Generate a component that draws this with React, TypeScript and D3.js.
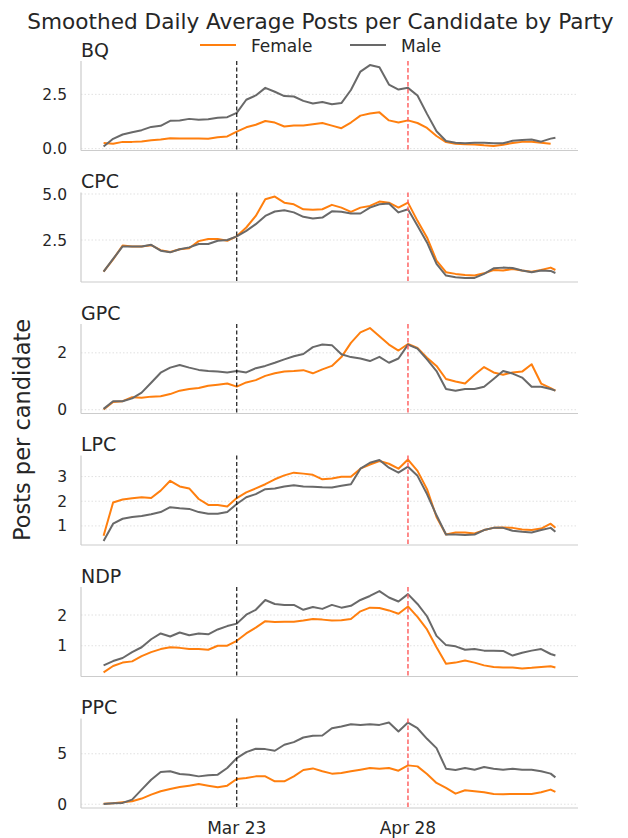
import React from "react";
import * as d3 from "d3";

// ---------- data ----------
const parties = ["BQ", "CPC", "GPC", "LPC", "NDP", "PPC"];
const seriesNames = ["Female", "Male"];
const seriesColors = ["#ff7f0e", "#696969"];

// day offsets from 2025-02-23
const dayOffsets = [0, 2, 4, 6, 8, 10, 12, 14, 16, 18, 20, 22, 24, 26, 28, 30, 32, 34, 36, 38, 40, 42, 44, 46, 48, 50, 52, 54, 56, 58, 60, 62, 64, 66, 68, 70, 72, 74, 76, 78, 80, 82, 84, 86, 88, 90, 92, 94, 95];
const startDate = new Date(2025, 1, 23);

const bqFemale = [0.26, 0.22, 0.31, 0.31, 0.33, 0.38, 0.42, 0.48, 0.46, 0.46, 0.46, 0.45, 0.52, 0.56, 0.78, 0.98, 1.1, 1.27, 1.2, 1.02, 1.06, 1.06, 1.12, 1.18, 1.06, 0.94, 1.2, 1.52, 1.62, 1.67, 1.3, 1.2, 1.3, 1.18, 0.95, 0.58, 0.3, 0.22, 0.2, 0.19, 0.15, 0.12, 0.18, 0.26, 0.31, 0.32, 0.27, 0.22, null];
const bqMale = [0.1, 0.45, 0.65, 0.75, 0.85, 1.0, 1.05, 1.28, 1.3, 1.37, 1.33, 1.35, 1.42, 1.45, 1.65, 2.25, 2.45, 2.8, 2.62, 2.42, 2.4, 2.2, 2.08, 2.15, 2.04, 2.1, 2.7, 3.55, 3.85, 3.75, 2.95, 2.72, 2.8, 2.45, 1.6, 0.8, 0.35, 0.27, 0.25, 0.27, 0.27, 0.25, 0.25, 0.36, 0.4, 0.42, 0.32, 0.46, 0.5];

const cpcFemale = [0.78, 1.45, 2.2, 2.15, 2.15, 2.22, 1.95, 1.85, 2.0, 2.05, 2.44, 2.55, 2.55, 2.46, 2.7, 3.18, 3.81, 4.71, 4.86, 4.53, 4.44, 4.17, 4.14, 4.17, 4.41, 4.26, 4.03, 4.26, 4.35, 4.59, 4.53, 4.26, 4.53, 3.54, 2.64, 1.38, 0.75, 0.66, 0.6, 0.57, 0.69, 0.87, 0.84, 0.93, 0.84, 0.78, 0.87, 1.0, 0.87];
const cpcMale = [0.78, 1.47, 2.15, 2.15, 2.15, 2.24, 1.92, 1.83, 2.0, 2.1, 2.28, 2.28, 2.46, 2.5, 2.7, 3.0, 3.36, 3.81, 4.05, 4.12, 4.0, 3.76, 3.67, 3.72, 4.06, 4.03, 3.94, 3.94, 4.26, 4.44, 4.48, 4.0, 4.17, 3.27, 2.37, 1.2, 0.57, 0.48, 0.44, 0.44, 0.66, 0.96, 1.0, 0.98, 0.84, 0.75, 0.84, 0.82, 0.71];

const gpcFemale = [0.01, 0.27, 0.3, 0.44, 0.42, 0.46, 0.47, 0.55, 0.67, 0.73, 0.76, 0.84, 0.88, 0.92, 0.81, 0.96, 1.04, 1.19, 1.28, 1.34, 1.36, 1.39, 1.28, 1.42, 1.54, 1.85, 2.35, 2.72, 2.87, 2.58, 2.29, 2.08, 2.31, 2.17, 1.83, 1.54, 1.08, 0.99, 0.92, 1.23, 1.5, 1.31, 1.23, 1.31, 1.34, 1.6, 0.92, 0.76, 0.67];
const gpcMale = [0.03, 0.3, 0.3, 0.4, 0.6, 0.95, 1.3, 1.48, 1.57, 1.48, 1.4, 1.36, 1.34, 1.31, 1.36, 1.31, 1.46, 1.54, 1.65, 1.77, 1.88, 1.96, 2.2, 2.29, 2.27, 1.95, 1.85, 1.8, 1.71, 1.86, 1.65, 1.8, 2.29, 2.15, 1.77, 1.36, 0.73, 0.67, 0.73, 0.73, 0.81, 1.08, 1.36, 1.27, 1.13, 0.81, 0.81, 0.73, 0.67];

const lpcFemale = [0.6, 1.95, 2.07, 2.12, 2.16, 2.13, 2.43, 2.83, 2.6, 2.52, 2.09, 1.85, 1.85, 1.79, 2.13, 2.36, 2.52, 2.69, 2.89, 3.05, 3.16, 3.12, 3.07, 2.89, 2.92, 2.99, 2.99, 3.32, 3.49, 3.63, 3.52, 3.32, 3.69, 3.23, 2.49, 1.36, 0.65, 0.73, 0.73, 0.69, 0.83, 0.92, 0.93, 0.92, 0.85, 0.83, 0.89, 1.09, 0.92];
const lpcMale = [0.39, 1.09, 1.29, 1.36, 1.4, 1.47, 1.56, 1.76, 1.72, 1.69, 1.56, 1.49, 1.49, 1.56, 1.89, 2.16, 2.29, 2.49, 2.52, 2.6, 2.65, 2.6, 2.59, 2.57, 2.56, 2.63, 2.69, 3.32, 3.56, 3.67, 3.36, 3.16, 3.4, 3.03, 2.29, 1.43, 0.65, 0.65, 0.63, 0.65, 0.83, 0.92, 0.92, 0.8, 0.76, 0.73, 0.83, 0.92, 0.76];

const ndpFemale = [0.13, 0.34, 0.45, 0.49, 0.66, 0.79, 0.89, 0.95, 0.93, 0.89, 0.89, 0.87, 1.0, 1.0, 1.16, 1.4, 1.59, 1.8, 1.77, 1.78, 1.78, 1.82, 1.87, 1.85, 1.82, 1.83, 1.87, 2.12, 2.24, 2.23, 2.15, 2.04, 2.28, 1.94, 1.53, 0.95, 0.41, 0.45, 0.52, 0.45, 0.36, 0.31, 0.29, 0.29, 0.26, 0.28, 0.31, 0.33, 0.29];
const ndpMale = [0.36, 0.5, 0.6, 0.79, 0.95, 1.21, 1.4, 1.3, 1.43, 1.34, 1.4, 1.37, 1.53, 1.64, 1.72, 2.01, 2.17, 2.49, 2.36, 2.33, 2.33, 2.17, 2.26, 2.2, 2.33, 2.24, 2.3, 2.49, 2.62, 2.78, 2.57, 2.44, 2.68, 2.36, 1.96, 1.32, 1.02, 0.98, 0.87, 0.89, 0.84, 0.84, 0.83, 0.68, 0.77, 0.84, 0.89, 0.73, 0.68];

const ppcFemale = [0.05, 0.1, 0.2, 0.3, 0.56, 0.95, 1.28, 1.51, 1.7, 1.84, 2.0, 1.84, 1.68, 1.84, 2.5, 2.6, 2.76, 2.76, 2.27, 2.27, 2.76, 3.39, 3.55, 3.26, 3.03, 3.09, 3.26, 3.42, 3.59, 3.52, 3.59, 3.32, 3.85, 3.75, 3.0, 2.11, 1.61, 1.05, 1.38, 1.28, 1.18, 1.02, 0.99, 1.02, 1.02, 1.02, 1.18, 1.45, 1.22];
const ppcMale = [0.03, 0.1, 0.13, 0.46, 1.45, 2.43, 3.19, 3.26, 2.99, 2.93, 2.76, 2.86, 2.93, 3.59, 4.57, 5.16, 5.49, 5.46, 5.3, 5.89, 6.15, 6.61, 6.78, 6.81, 7.53, 7.7, 7.93, 7.86, 7.93, 7.86, 8.09, 7.2, 8.09, 7.53, 6.48, 5.56, 3.52, 3.39, 3.59, 3.42, 3.68, 3.52, 3.42, 3.52, 3.42, 3.42, 3.26, 3.03, 2.66];

const femaleSeries = [bqFemale, cpcFemale, gpcFemale, lpcFemale, ndpFemale, ppcFemale];
const maleSeries = [bqMale, cpcMale, gpcMale, lpcMale, ndpMale, ppcMale];

const bqTicks = [0, 2.5];
const cpcTicks = [2.5, 5.0];
const gpcTicks = [0, 2];
const lpcTicks = [1, 2, 3];
const ndpTicks = [1, 2];
const ppcTicks = [0, 5];
const panelTicks = [bqTicks, cpcTicks, gpcTicks, lpcTicks, ndpTicks, ppcTicks];
const tickFormats = [".1f", ".1f", "d", "d", "d", "d"];

const markerDates = [new Date(2025, 2, 23), new Date(2025, 3, 28)];
const markerLabels = ["Mar 23", "Apr 28"];
const markerColors = ["#000000", "#ff5a5a"];

const title = "Smoothed Daily Average Posts per Candidate by Party";
const yLabel = "Posts per candidate";

// ---------- layout ----------
const W = 628;
const H = 838;
const left = 81;
const right = 578;
const panelTop0 = 61;
const panelStep = 131.5;
const panelH = 89.5;
const FONT = "DejaVu Sans, sans-serif";
const TEXT = "#262626";

const dates = dayOffsets.map((d) => d3.timeDay.offset(startDate, d));

export default function App() {
  const ext = d3.extent(dates) as [Date, Date];
  const span = +ext[1] - +ext[0];
  const x = d3
    .scaleTime()
    .domain([new Date(+ext[0] - span * 0.05), new Date(+ext[1] + span * 0.05)])
    .range([left, right]);

  return (
    <svg
      width={W}
      height={H}
      style={{ position: "absolute", left: 0, top: 0, background: "#fff" }}
      fontFamily={FONT}
    >
      <rect width={W} height={H} fill="#fff" />
      <text x={320.5} y={29} textAnchor="middle" fontSize={21.6} fill={TEXT}>
        {title}
      </text>
      {/* legend */}
      {seriesNames.map((name, i) => {
        const lx = i === 0 ? 200 : 350;
        return (
          <g key={name}>
            <line x1={lx} x2={lx + 36} y1={45} y2={45} stroke={seriesColors[i]} strokeWidth={2} />
            <text x={lx + 51} y={52} fontSize={17} fill={TEXT}>
              {name}
            </text>
          </g>
        );
      })}
      <text
        transform={`translate(30,430) rotate(-90)`}
        textAnchor="middle"
        fontSize={22.5}
        fill={TEXT}
      >
        {yLabel}
      </text>

      {parties.map((party, pi) => {
        const top = panelTop0 + pi * panelStep;
        const bottom = top + panelH;
        const all = [...femaleSeries[pi], ...maleSeries[pi]].filter((v) => v != null) as number[];
        const [mn, mx] = d3.extent(all) as [number, number];
        const r = mx - mn;
        const y = d3.scaleLinear().domain([mn - 0.05 * r, mx + 0.05 * r]).range([bottom, top]);
        const fmt = d3.format(tickFormats[pi]);
        const line = d3
          .line<number | null>()
          .defined((v) => v != null)
          .x((_, i) => x(dates[i]))
          .y((v) => y(v as number));
        return (
          <g key={party}>
            {panelTicks[pi].map((t) => (
              <g key={t}>
                <line
                  x1={left}
                  x2={right}
                  y1={y(t)}
                  y2={y(t)}
                  stroke="#d9d9d9"
                  strokeWidth={0.8}
                  strokeDasharray="1.5,2"
                />
                <text x={67} y={y(t)} dy="0.36em" textAnchor="end" fontSize={15.5} fill={TEXT}>
                  {fmt(t)}
                </text>
              </g>
            ))}
            <text x={left} y={top - 4.5} fontSize={19} fill={TEXT}>
              {party}
            </text>
            <line x1={left} x2={left} y1={top} y2={bottom} stroke="#cccccc" strokeWidth={1.2} />
            <line x1={left} x2={right} y1={bottom} y2={bottom} stroke="#cccccc" strokeWidth={1.2} />
            {[femaleSeries[pi], maleSeries[pi]].map((s, si) => (
              <path
                key={si}
                d={line(s) || ""}
                fill="none"
                stroke={seriesColors[si]}
                strokeWidth={2}
                strokeLinejoin="round"
              />
            ))}
            {markerDates.map((md, mi) => (
              <line
                key={mi}
                x1={x(md)}
                x2={x(md)}
                y1={top}
                y2={bottom}
                stroke={markerColors[mi]}
                strokeWidth={mi === 0 ? 1.1 : 1.4}
                strokeDasharray={mi === 0 ? "4,2.5" : "4.5,2.5"}
              />
            ))}
          </g>
        );
      })}
      {markerDates.map((md, mi) => (
        <text key={mi} x={x(md)} y={834} textAnchor="middle" fontSize={17} fill={TEXT}>
          {markerLabels[mi]}
        </text>
      ))}
    </svg>
  );
}
